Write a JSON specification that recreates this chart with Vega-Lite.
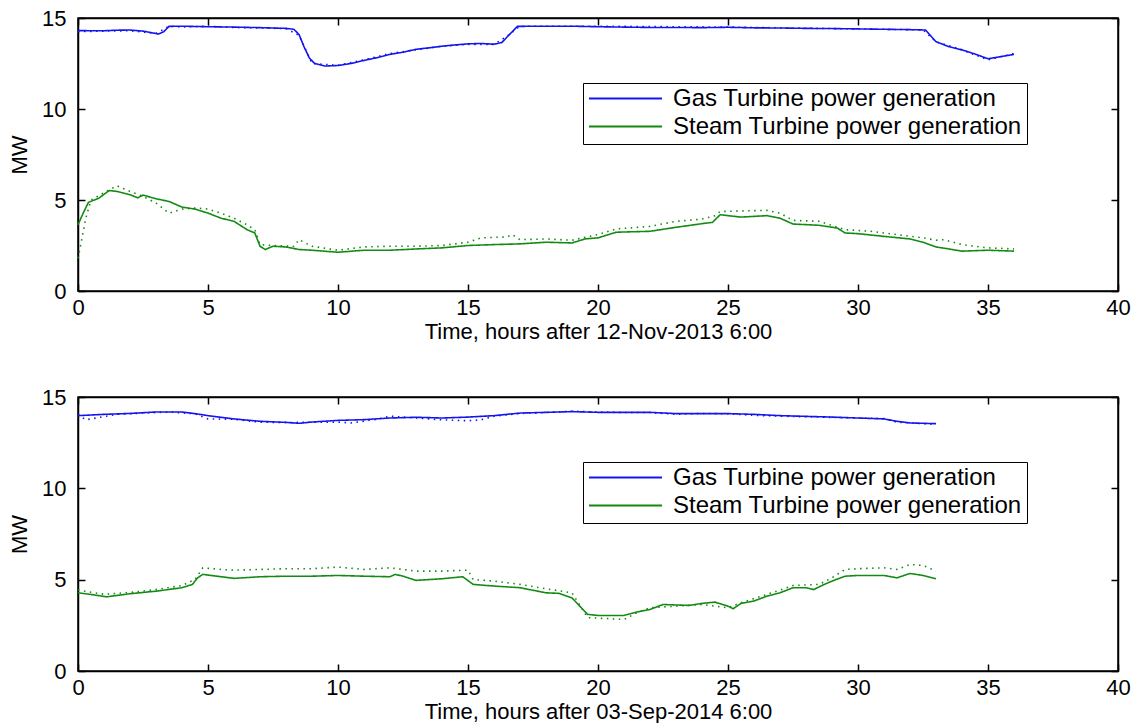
{
  "$schema": "https://vega.github.io/schema/vega-lite/v6.json",
  "background": "white",
  "padding": {"left": 7, "top": 6, "right": 5, "bottom": 0},
  "config": {
    "font": "Liberation Sans",
    "view": {"stroke": "black", "strokeWidth": 1.5},
    "axis": {"domainColor": "black", "domainWidth": 1.5, "tickColor": "black", "tickWidth": 1.5, "tickSize": -7, "labelFlush": false, "labelColor": "black", "titleColor": "black", "labelFontSize": 22, "titleFontSize": 22, "titleFontWeight": "normal", "grid": false},
    "axisX": {"labelPadding": 13, "titlePadding": 3},
    "axisY": {"labelPadding": 19, "titlePadding": 10},
    "legend": {"orient": "none", "legendX": 505, "legendY": 65, "strokeColor": "black", "fillColor": "white", "padding": 5, "symbolType": "stroke", "symbolSize": 5329, "symbolStrokeWidth": 2, "labelFontSize": 24, "labelColor": "black", "labelOffset": 10, "rowPadding": 3, "clipHeight": 21, "labelLimit": 500}
  },
  "datasets": {
    "nov2013": [
      {"t":0,"mw":14.31,"series":"Gas Turbine power generation","kind":"model"},
      {"t":0.5,"mw":14.3,"series":"Gas Turbine power generation","kind":"model"},
      {"t":1,"mw":14.3,"series":"Gas Turbine power generation","kind":"model"},
      {"t":1.5,"mw":14.33,"series":"Gas Turbine power generation","kind":"model"},
      {"t":2,"mw":14.34,"series":"Gas Turbine power generation","kind":"model"},
      {"t":2.5,"mw":14.28,"series":"Gas Turbine power generation","kind":"model"},
      {"t":2.8,"mw":14.2,"series":"Gas Turbine power generation","kind":"model"},
      {"t":3.1,"mw":14.12,"series":"Gas Turbine power generation","kind":"model"},
      {"t":3.3,"mw":14.25,"series":"Gas Turbine power generation","kind":"model"},
      {"t":3.5,"mw":14.54,"series":"Gas Turbine power generation","kind":"model"},
      {"t":4,"mw":14.55,"series":"Gas Turbine power generation","kind":"model"},
      {"t":5,"mw":14.52,"series":"Gas Turbine power generation","kind":"model"},
      {"t":6,"mw":14.5,"series":"Gas Turbine power generation","kind":"model"},
      {"t":7,"mw":14.47,"series":"Gas Turbine power generation","kind":"model"},
      {"t":8,"mw":14.43,"series":"Gas Turbine power generation","kind":"model"},
      {"t":8.3,"mw":14.38,"series":"Gas Turbine power generation","kind":"model"},
      {"t":8.5,"mw":14.1,"series":"Gas Turbine power generation","kind":"model"},
      {"t":8.7,"mw":13.4,"series":"Gas Turbine power generation","kind":"model"},
      {"t":8.9,"mw":12.8,"series":"Gas Turbine power generation","kind":"model"},
      {"t":9.1,"mw":12.5,"series":"Gas Turbine power generation","kind":"model"},
      {"t":9.5,"mw":12.36,"series":"Gas Turbine power generation","kind":"model"},
      {"t":10,"mw":12.39,"series":"Gas Turbine power generation","kind":"model"},
      {"t":10.5,"mw":12.5,"series":"Gas Turbine power generation","kind":"model"},
      {"t":11,"mw":12.67,"series":"Gas Turbine power generation","kind":"model"},
      {"t":11.5,"mw":12.82,"series":"Gas Turbine power generation","kind":"model"},
      {"t":12,"mw":13.0,"series":"Gas Turbine power generation","kind":"model"},
      {"t":12.5,"mw":13.12,"series":"Gas Turbine power generation","kind":"model"},
      {"t":13,"mw":13.28,"series":"Gas Turbine power generation","kind":"model"},
      {"t":13.5,"mw":13.36,"series":"Gas Turbine power generation","kind":"model"},
      {"t":14,"mw":13.45,"series":"Gas Turbine power generation","kind":"model"},
      {"t":14.5,"mw":13.52,"series":"Gas Turbine power generation","kind":"model"},
      {"t":15,"mw":13.58,"series":"Gas Turbine power generation","kind":"model"},
      {"t":15.5,"mw":13.6,"series":"Gas Turbine power generation","kind":"model"},
      {"t":16,"mw":13.56,"series":"Gas Turbine power generation","kind":"model"},
      {"t":16.3,"mw":13.65,"series":"Gas Turbine power generation","kind":"model"},
      {"t":16.6,"mw":14.1,"series":"Gas Turbine power generation","kind":"model"},
      {"t":16.9,"mw":14.54,"series":"Gas Turbine power generation","kind":"model"},
      {"t":18,"mw":14.55,"series":"Gas Turbine power generation","kind":"model"},
      {"t":19,"mw":14.55,"series":"Gas Turbine power generation","kind":"model"},
      {"t":20,"mw":14.52,"series":"Gas Turbine power generation","kind":"model"},
      {"t":21,"mw":14.5,"series":"Gas Turbine power generation","kind":"model"},
      {"t":22,"mw":14.48,"series":"Gas Turbine power generation","kind":"model"},
      {"t":23,"mw":14.48,"series":"Gas Turbine power generation","kind":"model"},
      {"t":24,"mw":14.47,"series":"Gas Turbine power generation","kind":"model"},
      {"t":25,"mw":14.49,"series":"Gas Turbine power generation","kind":"model"},
      {"t":26,"mw":14.46,"series":"Gas Turbine power generation","kind":"model"},
      {"t":27,"mw":14.45,"series":"Gas Turbine power generation","kind":"model"},
      {"t":28,"mw":14.43,"series":"Gas Turbine power generation","kind":"model"},
      {"t":29,"mw":14.42,"series":"Gas Turbine power generation","kind":"model"},
      {"t":30,"mw":14.4,"series":"Gas Turbine power generation","kind":"model"},
      {"t":31,"mw":14.38,"series":"Gas Turbine power generation","kind":"model"},
      {"t":32,"mw":14.36,"series":"Gas Turbine power generation","kind":"model"},
      {"t":32.6,"mw":14.34,"series":"Gas Turbine power generation","kind":"model"},
      {"t":33,"mw":13.7,"series":"Gas Turbine power generation","kind":"model"},
      {"t":33.5,"mw":13.42,"series":"Gas Turbine power generation","kind":"model"},
      {"t":34,"mw":13.25,"series":"Gas Turbine power generation","kind":"model"},
      {"t":34.5,"mw":13.02,"series":"Gas Turbine power generation","kind":"model"},
      {"t":35,"mw":12.76,"series":"Gas Turbine power generation","kind":"model"},
      {"t":35.5,"mw":12.88,"series":"Gas Turbine power generation","kind":"model"},
      {"t":36,"mw":13.0,"series":"Gas Turbine power generation","kind":"model"},

      {"t":0,"mw":14.25,"series":"Gas Turbine power generation","kind":"measured"},
      {"t":1,"mw":14.28,"series":"Gas Turbine power generation","kind":"measured"},
      {"t":2,"mw":14.3,"series":"Gas Turbine power generation","kind":"measured"},
      {"t":3,"mw":14.15,"series":"Gas Turbine power generation","kind":"measured"},
      {"t":3.5,"mw":14.55,"series":"Gas Turbine power generation","kind":"measured"},
      {"t":4,"mw":14.5,"series":"Gas Turbine power generation","kind":"measured"},
      {"t":5,"mw":14.55,"series":"Gas Turbine power generation","kind":"measured"},
      {"t":6,"mw":14.48,"series":"Gas Turbine power generation","kind":"measured"},
      {"t":7,"mw":14.45,"series":"Gas Turbine power generation","kind":"measured"},
      {"t":8,"mw":14.42,"series":"Gas Turbine power generation","kind":"measured"},
      {"t":8.5,"mw":14.05,"series":"Gas Turbine power generation","kind":"measured"},
      {"t":9,"mw":12.5,"series":"Gas Turbine power generation","kind":"measured"},
      {"t":10,"mw":12.4,"series":"Gas Turbine power generation","kind":"measured"},
      {"t":11,"mw":12.7,"series":"Gas Turbine power generation","kind":"measured"},
      {"t":12,"mw":13.05,"series":"Gas Turbine power generation","kind":"measured"},
      {"t":13,"mw":13.25,"series":"Gas Turbine power generation","kind":"measured"},
      {"t":14,"mw":13.45,"series":"Gas Turbine power generation","kind":"measured"},
      {"t":15,"mw":13.55,"series":"Gas Turbine power generation","kind":"measured"},
      {"t":16,"mw":13.55,"series":"Gas Turbine power generation","kind":"measured"},
      {"t":16.5,"mw":14.0,"series":"Gas Turbine power generation","kind":"measured"},
      {"t":17,"mw":14.55,"series":"Gas Turbine power generation","kind":"measured"},
      {"t":20,"mw":14.55,"series":"Gas Turbine power generation","kind":"measured"},
      {"t":25,"mw":14.5,"series":"Gas Turbine power generation","kind":"measured"},
      {"t":30,"mw":14.4,"series":"Gas Turbine power generation","kind":"measured"},
      {"t":32.5,"mw":14.35,"series":"Gas Turbine power generation","kind":"measured"},
      {"t":33,"mw":13.7,"series":"Gas Turbine power generation","kind":"measured"},
      {"t":34,"mw":13.25,"series":"Gas Turbine power generation","kind":"measured"},
      {"t":35,"mw":12.7,"series":"Gas Turbine power generation","kind":"measured"},
      {"t":36,"mw":13.05,"series":"Gas Turbine power generation","kind":"measured"},

      {"t":0,"mw":3.64,"series":"Steam Turbine power generation","kind":"model"},
      {"t":0.2,"mw":4.28,"series":"Steam Turbine power generation","kind":"model"},
      {"t":0.4,"mw":4.87,"series":"Steam Turbine power generation","kind":"model"},
      {"t":0.8,"mw":5.1,"series":"Steam Turbine power generation","kind":"model"},
      {"t":1.2,"mw":5.52,"series":"Steam Turbine power generation","kind":"model"},
      {"t":1.5,"mw":5.47,"series":"Steam Turbine power generation","kind":"model"},
      {"t":2,"mw":5.29,"series":"Steam Turbine power generation","kind":"model"},
      {"t":2.3,"mw":5.12,"series":"Steam Turbine power generation","kind":"model"},
      {"t":2.5,"mw":5.27,"series":"Steam Turbine power generation","kind":"model"},
      {"t":3,"mw":5.07,"series":"Steam Turbine power generation","kind":"model"},
      {"t":3.5,"mw":4.92,"series":"Steam Turbine power generation","kind":"model"},
      {"t":4,"mw":4.61,"series":"Steam Turbine power generation","kind":"model"},
      {"t":4.5,"mw":4.5,"series":"Steam Turbine power generation","kind":"model"},
      {"t":5,"mw":4.28,"series":"Steam Turbine power generation","kind":"model"},
      {"t":5.5,"mw":4.0,"series":"Steam Turbine power generation","kind":"model"},
      {"t":6,"mw":3.83,"series":"Steam Turbine power generation","kind":"model"},
      {"t":6.5,"mw":3.37,"series":"Steam Turbine power generation","kind":"model"},
      {"t":6.8,"mw":3.19,"series":"Steam Turbine power generation","kind":"model"},
      {"t":7,"mw":2.46,"series":"Steam Turbine power generation","kind":"model"},
      {"t":7.2,"mw":2.28,"series":"Steam Turbine power generation","kind":"model"},
      {"t":7.5,"mw":2.46,"series":"Steam Turbine power generation","kind":"model"},
      {"t":8,"mw":2.42,"series":"Steam Turbine power generation","kind":"model"},
      {"t":8.5,"mw":2.28,"series":"Steam Turbine power generation","kind":"model"},
      {"t":9,"mw":2.24,"series":"Steam Turbine power generation","kind":"model"},
      {"t":10,"mw":2.13,"series":"Steam Turbine power generation","kind":"model"},
      {"t":11,"mw":2.24,"series":"Steam Turbine power generation","kind":"model"},
      {"t":12,"mw":2.24,"series":"Steam Turbine power generation","kind":"model"},
      {"t":13,"mw":2.31,"series":"Steam Turbine power generation","kind":"model"},
      {"t":14,"mw":2.37,"series":"Steam Turbine power generation","kind":"model"},
      {"t":15,"mw":2.5,"series":"Steam Turbine power generation","kind":"model"},
      {"t":16,"mw":2.55,"series":"Steam Turbine power generation","kind":"model"},
      {"t":17,"mw":2.59,"series":"Steam Turbine power generation","kind":"model"},
      {"t":18,"mw":2.68,"series":"Steam Turbine power generation","kind":"model"},
      {"t":19,"mw":2.64,"series":"Steam Turbine power generation","kind":"model"},
      {"t":19.5,"mw":2.86,"series":"Steam Turbine power generation","kind":"model"},
      {"t":20,"mw":2.92,"series":"Steam Turbine power generation","kind":"model"},
      {"t":20.7,"mw":3.23,"series":"Steam Turbine power generation","kind":"model"},
      {"t":22,"mw":3.28,"series":"Steam Turbine power generation","kind":"model"},
      {"t":23,"mw":3.5,"series":"Steam Turbine power generation","kind":"model"},
      {"t":24,"mw":3.7,"series":"Steam Turbine power generation","kind":"model"},
      {"t":24.4,"mw":3.77,"series":"Steam Turbine power generation","kind":"model"},
      {"t":24.7,"mw":4.19,"series":"Steam Turbine power generation","kind":"model"},
      {"t":25.5,"mw":4.06,"series":"Steam Turbine power generation","kind":"model"},
      {"t":26.5,"mw":4.14,"series":"Steam Turbine power generation","kind":"model"},
      {"t":27,"mw":4.0,"series":"Steam Turbine power generation","kind":"model"},
      {"t":27.5,"mw":3.68,"series":"Steam Turbine power generation","kind":"model"},
      {"t":28.5,"mw":3.61,"series":"Steam Turbine power generation","kind":"model"},
      {"t":29.2,"mw":3.46,"series":"Steam Turbine power generation","kind":"model"},
      {"t":29.5,"mw":3.19,"series":"Steam Turbine power generation","kind":"model"},
      {"t":30,"mw":3.15,"series":"Steam Turbine power generation","kind":"model"},
      {"t":31,"mw":3.0,"series":"Steam Turbine power generation","kind":"model"},
      {"t":32,"mw":2.86,"series":"Steam Turbine power generation","kind":"model"},
      {"t":32.5,"mw":2.68,"series":"Steam Turbine power generation","kind":"model"},
      {"t":33,"mw":2.42,"series":"Steam Turbine power generation","kind":"model"},
      {"t":33.5,"mw":2.31,"series":"Steam Turbine power generation","kind":"model"},
      {"t":34,"mw":2.19,"series":"Steam Turbine power generation","kind":"model"},
      {"t":35,"mw":2.24,"series":"Steam Turbine power generation","kind":"model"},
      {"t":36,"mw":2.19,"series":"Steam Turbine power generation","kind":"model"},

      {"t":0,"mw":1.8,"series":"Steam Turbine power generation","kind":"measured"},
      {"t":0.1,"mw":2.5,"series":"Steam Turbine power generation","kind":"measured"},
      {"t":0.3,"mw":4.0,"series":"Steam Turbine power generation","kind":"measured"},
      {"t":0.5,"mw":5.0,"series":"Steam Turbine power generation","kind":"measured"},
      {"t":1,"mw":5.4,"series":"Steam Turbine power generation","kind":"measured"},
      {"t":1.5,"mw":5.78,"series":"Steam Turbine power generation","kind":"measured"},
      {"t":2,"mw":5.47,"series":"Steam Turbine power generation","kind":"measured"},
      {"t":2.5,"mw":5.2,"series":"Steam Turbine power generation","kind":"measured"},
      {"t":3,"mw":4.83,"series":"Steam Turbine power generation","kind":"measured"},
      {"t":3.5,"mw":4.28,"series":"Steam Turbine power generation","kind":"measured"},
      {"t":4,"mw":4.5,"series":"Steam Turbine power generation","kind":"measured"},
      {"t":4.5,"mw":4.56,"series":"Steam Turbine power generation","kind":"measured"},
      {"t":5,"mw":4.5,"series":"Steam Turbine power generation","kind":"measured"},
      {"t":5.5,"mw":4.28,"series":"Steam Turbine power generation","kind":"measured"},
      {"t":6,"mw":4.0,"series":"Steam Turbine power generation","kind":"measured"},
      {"t":6.5,"mw":3.64,"series":"Steam Turbine power generation","kind":"measured"},
      {"t":6.8,"mw":3.37,"series":"Steam Turbine power generation","kind":"measured"},
      {"t":7,"mw":2.55,"series":"Steam Turbine power generation","kind":"measured"},
      {"t":7.5,"mw":2.5,"series":"Steam Turbine power generation","kind":"measured"},
      {"t":8.3,"mw":2.45,"series":"Steam Turbine power generation","kind":"measured"},
      {"t":8.5,"mw":2.82,"series":"Steam Turbine power generation","kind":"measured"},
      {"t":9,"mw":2.46,"series":"Steam Turbine power generation","kind":"measured"},
      {"t":10,"mw":2.24,"series":"Steam Turbine power generation","kind":"measured"},
      {"t":11,"mw":2.42,"series":"Steam Turbine power generation","kind":"measured"},
      {"t":12,"mw":2.46,"series":"Steam Turbine power generation","kind":"measured"},
      {"t":13,"mw":2.46,"series":"Steam Turbine power generation","kind":"measured"},
      {"t":14,"mw":2.5,"series":"Steam Turbine power generation","kind":"measured"},
      {"t":15,"mw":2.68,"series":"Steam Turbine power generation","kind":"measured"},
      {"t":15.5,"mw":2.92,"series":"Steam Turbine power generation","kind":"measured"},
      {"t":16.5,"mw":2.97,"series":"Steam Turbine power generation","kind":"measured"},
      {"t":16.7,"mw":3.1,"series":"Steam Turbine power generation","kind":"measured"},
      {"t":17,"mw":2.82,"series":"Steam Turbine power generation","kind":"measured"},
      {"t":18,"mw":2.86,"series":"Steam Turbine power generation","kind":"measured"},
      {"t":19,"mw":2.79,"series":"Steam Turbine power generation","kind":"measured"},
      {"t":20,"mw":3.1,"series":"Steam Turbine power generation","kind":"measured"},
      {"t":20.7,"mw":3.41,"series":"Steam Turbine power generation","kind":"measured"},
      {"t":22,"mw":3.55,"series":"Steam Turbine power generation","kind":"measured"},
      {"t":23,"mw":3.83,"series":"Steam Turbine power generation","kind":"measured"},
      {"t":24,"mw":3.95,"series":"Steam Turbine power generation","kind":"measured"},
      {"t":24.5,"mw":4.14,"series":"Steam Turbine power generation","kind":"measured"},
      {"t":24.7,"mw":4.37,"series":"Steam Turbine power generation","kind":"measured"},
      {"t":26.5,"mw":4.43,"series":"Steam Turbine power generation","kind":"measured"},
      {"t":27,"mw":4.28,"series":"Steam Turbine power generation","kind":"measured"},
      {"t":27.5,"mw":3.88,"series":"Steam Turbine power generation","kind":"measured"},
      {"t":28.5,"mw":3.83,"series":"Steam Turbine power generation","kind":"measured"},
      {"t":29.5,"mw":3.37,"series":"Steam Turbine power generation","kind":"measured"},
      {"t":30.5,"mw":3.28,"series":"Steam Turbine power generation","kind":"measured"},
      {"t":31.5,"mw":3.1,"series":"Steam Turbine power generation","kind":"measured"},
      {"t":32.5,"mw":2.92,"series":"Steam Turbine power generation","kind":"measured"},
      {"t":33,"mw":2.79,"series":"Steam Turbine power generation","kind":"measured"},
      {"t":33.3,"mw":2.82,"series":"Steam Turbine power generation","kind":"measured"},
      {"t":34,"mw":2.55,"series":"Steam Turbine power generation","kind":"measured"},
      {"t":35,"mw":2.37,"series":"Steam Turbine power generation","kind":"measured"},
      {"t":36,"mw":2.31,"series":"Steam Turbine power generation","kind":"measured"}
    ],
    "sep2014": [
      {"t":0,"mw":13.98,"series":"Gas Turbine power generation","kind":"model"},
      {"t":1,"mw":14.05,"series":"Gas Turbine power generation","kind":"model"},
      {"t":2,"mw":14.1,"series":"Gas Turbine power generation","kind":"model"},
      {"t":3,"mw":14.18,"series":"Gas Turbine power generation","kind":"model"},
      {"t":4,"mw":14.18,"series":"Gas Turbine power generation","kind":"model"},
      {"t":4.5,"mw":14.09,"series":"Gas Turbine power generation","kind":"model"},
      {"t":5,"mw":13.98,"series":"Gas Turbine power generation","kind":"model"},
      {"t":6,"mw":13.8,"series":"Gas Turbine power generation","kind":"model"},
      {"t":7,"mw":13.67,"series":"Gas Turbine power generation","kind":"model"},
      {"t":8,"mw":13.61,"series":"Gas Turbine power generation","kind":"model"},
      {"t":8.5,"mw":13.56,"series":"Gas Turbine power generation","kind":"model"},
      {"t":9,"mw":13.63,"series":"Gas Turbine power generation","kind":"model"},
      {"t":10,"mw":13.72,"series":"Gas Turbine power generation","kind":"model"},
      {"t":11,"mw":13.76,"series":"Gas Turbine power generation","kind":"model"},
      {"t":12,"mw":13.85,"series":"Gas Turbine power generation","kind":"model"},
      {"t":13,"mw":13.89,"series":"Gas Turbine power generation","kind":"model"},
      {"t":14,"mw":13.85,"series":"Gas Turbine power generation","kind":"model"},
      {"t":15,"mw":13.9,"series":"Gas Turbine power generation","kind":"model"},
      {"t":16,"mw":13.98,"series":"Gas Turbine power generation","kind":"model"},
      {"t":17,"mw":14.12,"series":"Gas Turbine power generation","kind":"model"},
      {"t":18,"mw":14.16,"series":"Gas Turbine power generation","kind":"model"},
      {"t":19,"mw":14.2,"series":"Gas Turbine power generation","kind":"model"},
      {"t":20,"mw":14.16,"series":"Gas Turbine power generation","kind":"model"},
      {"t":21,"mw":14.16,"series":"Gas Turbine power generation","kind":"model"},
      {"t":22,"mw":14.16,"series":"Gas Turbine power generation","kind":"model"},
      {"t":23,"mw":14.09,"series":"Gas Turbine power generation","kind":"model"},
      {"t":24,"mw":14.09,"series":"Gas Turbine power generation","kind":"model"},
      {"t":25,"mw":14.09,"series":"Gas Turbine power generation","kind":"model"},
      {"t":26,"mw":14.05,"series":"Gas Turbine power generation","kind":"model"},
      {"t":27,"mw":13.98,"series":"Gas Turbine power generation","kind":"model"},
      {"t":28,"mw":13.94,"series":"Gas Turbine power generation","kind":"model"},
      {"t":29,"mw":13.9,"series":"Gas Turbine power generation","kind":"model"},
      {"t":30,"mw":13.85,"series":"Gas Turbine power generation","kind":"model"},
      {"t":31,"mw":13.8,"series":"Gas Turbine power generation","kind":"model"},
      {"t":31.5,"mw":13.67,"series":"Gas Turbine power generation","kind":"model"},
      {"t":32,"mw":13.58,"series":"Gas Turbine power generation","kind":"model"},
      {"t":33,"mw":13.54,"series":"Gas Turbine power generation","kind":"model"},

      {"t":0,"mw":14.05,"series":"Gas Turbine power generation","kind":"measured"},
      {"t":0.3,"mw":13.75,"series":"Gas Turbine power generation","kind":"measured"},
      {"t":0.7,"mw":13.85,"series":"Gas Turbine power generation","kind":"measured"},
      {"t":1.5,"mw":14.05,"series":"Gas Turbine power generation","kind":"measured"},
      {"t":2.5,"mw":14.12,"series":"Gas Turbine power generation","kind":"measured"},
      {"t":3.5,"mw":14.18,"series":"Gas Turbine power generation","kind":"measured"},
      {"t":4.5,"mw":14.08,"series":"Gas Turbine power generation","kind":"measured"},
      {"t":5,"mw":13.8,"series":"Gas Turbine power generation","kind":"measured"},
      {"t":6,"mw":13.78,"series":"Gas Turbine power generation","kind":"measured"},
      {"t":7,"mw":13.62,"series":"Gas Turbine power generation","kind":"measured"},
      {"t":8,"mw":13.6,"series":"Gas Turbine power generation","kind":"measured"},
      {"t":9,"mw":13.62,"series":"Gas Turbine power generation","kind":"measured"},
      {"t":10,"mw":13.62,"series":"Gas Turbine power generation","kind":"measured"},
      {"t":10.5,"mw":13.58,"series":"Gas Turbine power generation","kind":"measured"},
      {"t":11.5,"mw":13.78,"series":"Gas Turbine power generation","kind":"measured"},
      {"t":12,"mw":13.95,"series":"Gas Turbine power generation","kind":"measured"},
      {"t":13,"mw":13.85,"series":"Gas Turbine power generation","kind":"measured"},
      {"t":14,"mw":13.75,"series":"Gas Turbine power generation","kind":"measured"},
      {"t":15,"mw":13.7,"series":"Gas Turbine power generation","kind":"measured"},
      {"t":15.5,"mw":13.75,"series":"Gas Turbine power generation","kind":"measured"},
      {"t":16,"mw":13.95,"series":"Gas Turbine power generation","kind":"measured"},
      {"t":17,"mw":14.1,"series":"Gas Turbine power generation","kind":"measured"},
      {"t":18,"mw":14.15,"series":"Gas Turbine power generation","kind":"measured"},
      {"t":19,"mw":14.22,"series":"Gas Turbine power generation","kind":"measured"},
      {"t":20,"mw":14.18,"series":"Gas Turbine power generation","kind":"measured"},
      {"t":21,"mw":14.15,"series":"Gas Turbine power generation","kind":"measured"},
      {"t":22,"mw":14.15,"series":"Gas Turbine power generation","kind":"measured"},
      {"t":23,"mw":14.05,"series":"Gas Turbine power generation","kind":"measured"},
      {"t":24,"mw":14.1,"series":"Gas Turbine power generation","kind":"measured"},
      {"t":25,"mw":14.08,"series":"Gas Turbine power generation","kind":"measured"},
      {"t":26,"mw":14.0,"series":"Gas Turbine power generation","kind":"measured"},
      {"t":27,"mw":13.95,"series":"Gas Turbine power generation","kind":"measured"},
      {"t":28,"mw":13.92,"series":"Gas Turbine power generation","kind":"measured"},
      {"t":29,"mw":13.88,"series":"Gas Turbine power generation","kind":"measured"},
      {"t":30,"mw":13.85,"series":"Gas Turbine power generation","kind":"measured"},
      {"t":31,"mw":13.82,"series":"Gas Turbine power generation","kind":"measured"},
      {"t":31.5,"mw":13.62,"series":"Gas Turbine power generation","kind":"measured"},
      {"t":32,"mw":13.58,"series":"Gas Turbine power generation","kind":"measured"},
      {"t":33,"mw":13.5,"series":"Gas Turbine power generation","kind":"measured"},

      {"t":0,"mw":4.28,"series":"Steam Turbine power generation","kind":"model"},
      {"t":0.5,"mw":4.19,"series":"Steam Turbine power generation","kind":"model"},
      {"t":1.1,"mw":4.06,"series":"Steam Turbine power generation","kind":"model"},
      {"t":2,"mw":4.23,"series":"Steam Turbine power generation","kind":"model"},
      {"t":3,"mw":4.37,"series":"Steam Turbine power generation","kind":"model"},
      {"t":4,"mw":4.56,"series":"Steam Turbine power generation","kind":"model"},
      {"t":4.4,"mw":4.74,"series":"Steam Turbine power generation","kind":"model"},
      {"t":4.6,"mw":5.1,"series":"Steam Turbine power generation","kind":"model"},
      {"t":4.8,"mw":5.29,"series":"Steam Turbine power generation","kind":"model"},
      {"t":5.5,"mw":5.16,"series":"Steam Turbine power generation","kind":"model"},
      {"t":6,"mw":5.07,"series":"Steam Turbine power generation","kind":"model"},
      {"t":7,"mw":5.16,"series":"Steam Turbine power generation","kind":"model"},
      {"t":8,"mw":5.19,"series":"Steam Turbine power generation","kind":"model"},
      {"t":9,"mw":5.19,"series":"Steam Turbine power generation","kind":"model"},
      {"t":10,"mw":5.23,"series":"Steam Turbine power generation","kind":"model"},
      {"t":11,"mw":5.19,"series":"Steam Turbine power generation","kind":"model"},
      {"t":12,"mw":5.16,"series":"Steam Turbine power generation","kind":"model"},
      {"t":12.2,"mw":5.29,"series":"Steam Turbine power generation","kind":"model"},
      {"t":12.5,"mw":5.19,"series":"Steam Turbine power generation","kind":"model"},
      {"t":13,"mw":4.96,"series":"Steam Turbine power generation","kind":"model"},
      {"t":14,"mw":5.05,"series":"Steam Turbine power generation","kind":"model"},
      {"t":14.8,"mw":5.16,"series":"Steam Turbine power generation","kind":"model"},
      {"t":15.2,"mw":4.74,"series":"Steam Turbine power generation","kind":"model"},
      {"t":16,"mw":4.65,"series":"Steam Turbine power generation","kind":"model"},
      {"t":17,"mw":4.56,"series":"Steam Turbine power generation","kind":"model"},
      {"t":18,"mw":4.28,"series":"Steam Turbine power generation","kind":"model"},
      {"t":18.5,"mw":4.25,"series":"Steam Turbine power generation","kind":"model"},
      {"t":19,"mw":4.0,"series":"Steam Turbine power generation","kind":"model"},
      {"t":19.6,"mw":3.1,"series":"Steam Turbine power generation","kind":"model"},
      {"t":20,"mw":3.04,"series":"Steam Turbine power generation","kind":"model"},
      {"t":21,"mw":3.04,"series":"Steam Turbine power generation","kind":"model"},
      {"t":21.5,"mw":3.23,"series":"Steam Turbine power generation","kind":"model"},
      {"t":22,"mw":3.37,"series":"Steam Turbine power generation","kind":"model"},
      {"t":22.5,"mw":3.64,"series":"Steam Turbine power generation","kind":"model"},
      {"t":23.5,"mw":3.59,"series":"Steam Turbine power generation","kind":"model"},
      {"t":24,"mw":3.7,"series":"Steam Turbine power generation","kind":"model"},
      {"t":24.5,"mw":3.77,"series":"Steam Turbine power generation","kind":"model"},
      {"t":25,"mw":3.55,"series":"Steam Turbine power generation","kind":"model"},
      {"t":25.2,"mw":3.41,"series":"Steam Turbine power generation","kind":"model"},
      {"t":25.5,"mw":3.7,"series":"Steam Turbine power generation","kind":"model"},
      {"t":26,"mw":3.83,"series":"Steam Turbine power generation","kind":"model"},
      {"t":26.5,"mw":4.1,"series":"Steam Turbine power generation","kind":"model"},
      {"t":27,"mw":4.28,"series":"Steam Turbine power generation","kind":"model"},
      {"t":27.5,"mw":4.56,"series":"Steam Turbine power generation","kind":"model"},
      {"t":28,"mw":4.56,"series":"Steam Turbine power generation","kind":"model"},
      {"t":28.3,"mw":4.46,"series":"Steam Turbine power generation","kind":"model"},
      {"t":28.7,"mw":4.74,"series":"Steam Turbine power generation","kind":"model"},
      {"t":29,"mw":4.92,"series":"Steam Turbine power generation","kind":"model"},
      {"t":29.5,"mw":5.19,"series":"Steam Turbine power generation","kind":"model"},
      {"t":30,"mw":5.23,"series":"Steam Turbine power generation","kind":"model"},
      {"t":31,"mw":5.23,"series":"Steam Turbine power generation","kind":"model"},
      {"t":31.5,"mw":5.1,"series":"Steam Turbine power generation","kind":"model"},
      {"t":32,"mw":5.34,"series":"Steam Turbine power generation","kind":"model"},
      {"t":32.5,"mw":5.23,"series":"Steam Turbine power generation","kind":"model"},
      {"t":33,"mw":5.05,"series":"Steam Turbine power generation","kind":"model"},

      {"t":0,"mw":4.43,"series":"Steam Turbine power generation","kind":"measured"},
      {"t":1,"mw":4.2,"series":"Steam Turbine power generation","kind":"measured"},
      {"t":2,"mw":4.3,"series":"Steam Turbine power generation","kind":"measured"},
      {"t":3,"mw":4.46,"series":"Steam Turbine power generation","kind":"measured"},
      {"t":4,"mw":4.68,"series":"Steam Turbine power generation","kind":"measured"},
      {"t":4.5,"mw":5.01,"series":"Steam Turbine power generation","kind":"measured"},
      {"t":4.8,"mw":5.65,"series":"Steam Turbine power generation","kind":"measured"},
      {"t":5.5,"mw":5.56,"series":"Steam Turbine power generation","kind":"measured"},
      {"t":6,"mw":5.52,"series":"Steam Turbine power generation","kind":"measured"},
      {"t":7,"mw":5.56,"series":"Steam Turbine power generation","kind":"measured"},
      {"t":8,"mw":5.6,"series":"Steam Turbine power generation","kind":"measured"},
      {"t":9,"mw":5.6,"series":"Steam Turbine power generation","kind":"measured"},
      {"t":10,"mw":5.69,"series":"Steam Turbine power generation","kind":"measured"},
      {"t":11,"mw":5.56,"series":"Steam Turbine power generation","kind":"measured"},
      {"t":12,"mw":5.65,"series":"Steam Turbine power generation","kind":"measured"},
      {"t":13,"mw":5.47,"series":"Steam Turbine power generation","kind":"measured"},
      {"t":14,"mw":5.47,"series":"Steam Turbine power generation","kind":"measured"},
      {"t":15,"mw":5.52,"series":"Steam Turbine power generation","kind":"measured"},
      {"t":15.2,"mw":5.01,"series":"Steam Turbine power generation","kind":"measured"},
      {"t":16,"mw":4.92,"series":"Steam Turbine power generation","kind":"measured"},
      {"t":17,"mw":4.74,"series":"Steam Turbine power generation","kind":"measured"},
      {"t":18,"mw":4.5,"series":"Steam Turbine power generation","kind":"measured"},
      {"t":19,"mw":4.28,"series":"Steam Turbine power generation","kind":"measured"},
      {"t":19.6,"mw":2.92,"series":"Steam Turbine power generation","kind":"measured"},
      {"t":20.5,"mw":2.86,"series":"Steam Turbine power generation","kind":"measured"},
      {"t":21,"mw":2.82,"series":"Steam Turbine power generation","kind":"measured"},
      {"t":21.5,"mw":3.19,"series":"Steam Turbine power generation","kind":"measured"},
      {"t":22,"mw":3.46,"series":"Steam Turbine power generation","kind":"measured"},
      {"t":23,"mw":3.55,"series":"Steam Turbine power generation","kind":"measured"},
      {"t":24,"mw":3.64,"series":"Steam Turbine power generation","kind":"measured"},
      {"t":25,"mw":3.46,"series":"Steam Turbine power generation","kind":"measured"},
      {"t":25.5,"mw":3.74,"series":"Steam Turbine power generation","kind":"measured"},
      {"t":26.5,"mw":4.19,"series":"Steam Turbine power generation","kind":"measured"},
      {"t":27.5,"mw":4.68,"series":"Steam Turbine power generation","kind":"measured"},
      {"t":28.5,"mw":4.74,"series":"Steam Turbine power generation","kind":"measured"},
      {"t":29,"mw":5.1,"series":"Steam Turbine power generation","kind":"measured"},
      {"t":29.5,"mw":5.56,"series":"Steam Turbine power generation","kind":"measured"},
      {"t":30,"mw":5.6,"series":"Steam Turbine power generation","kind":"measured"},
      {"t":31,"mw":5.65,"series":"Steam Turbine power generation","kind":"measured"},
      {"t":31.5,"mw":5.56,"series":"Steam Turbine power generation","kind":"measured"},
      {"t":32,"mw":5.83,"series":"Steam Turbine power generation","kind":"measured"},
      {"t":32.5,"mw":5.78,"series":"Steam Turbine power generation","kind":"measured"},
      {"t":33,"mw":5.47,"series":"Steam Turbine power generation","kind":"measured"}
    ]
  },
  "spacing": 42,
  "vconcat": [
    {
      "width": 1040,
      "height": 273,
      "data": {"name": "nov2013"},
      "layer": [
        {
          "mark": {"type": "line", "strokeWidth": 1.6},
          "encoding": {
            "x": {"field": "t", "type": "quantitative", "scale": {"domain": [0, 40], "nice": false}, "axis": {"orient": "bottom", "values": [0,5,10,15,20,25,30,35,40], "title": "Time, hours after 12-Nov-2013 6:00"}},
            "y": {"field": "mw", "type": "quantitative", "scale": {"domain": [0, 15], "nice": false}, "axis": {"orient": "left", "values": [0,5,10,15], "title": "MW"}},
            "color": {"field": "series", "type": "nominal", "scale": {"domain": ["Gas Turbine power generation", "Steam Turbine power generation"], "range": ["#1414f0", "#138a13"]}, "legend": {"title": null}},
            "strokeDash": {"field": "kind", "type": "nominal", "scale": {"domain": ["model", "measured"], "range": [[1, 0], [1.5, 4.5]]}, "legend": null}
          }
        },
        {
          "mark": {"type": "point", "opacity": 0},
          "encoding": {
            "x": {"field": "t", "type": "quantitative", "scale": {"domain": [0, 40], "nice": false}, "axis": {"orient": "top", "values": [0,5,10,15,20,25,30,35,40], "labels": false, "title": null}},
            "y": {"field": "mw", "type": "quantitative", "scale": {"domain": [0, 15], "nice": false}, "axis": {"orient": "right", "values": [0,5,10,15], "labels": false, "title": null}}
          }
        }
      ],
      "resolve": {"axis": {"x": "independent", "y": "independent"}}
    },
    {
      "width": 1040,
      "height": 274,
      "data": {"name": "sep2014"},
      "layer": [
        {
          "mark": {"type": "line", "strokeWidth": 1.6},
          "encoding": {
            "x": {"field": "t", "type": "quantitative", "scale": {"domain": [0, 40], "nice": false}, "axis": {"orient": "bottom", "values": [0,5,10,15,20,25,30,35,40], "title": "Time, hours after 03-Sep-2014 6:00"}},
            "y": {"field": "mw", "type": "quantitative", "scale": {"domain": [0, 15], "nice": false}, "axis": {"orient": "left", "values": [0,5,10,15], "title": "MW"}},
            "color": {"field": "series", "type": "nominal", "scale": {"domain": ["Gas Turbine power generation", "Steam Turbine power generation"], "range": ["#1414f0", "#138a13"]}, "legend": {"title": null}},
            "strokeDash": {"field": "kind", "type": "nominal", "scale": {"domain": ["model", "measured"], "range": [[1, 0], [1.5, 4.5]]}, "legend": null}
          }
        },
        {
          "mark": {"type": "point", "opacity": 0},
          "encoding": {
            "x": {"field": "t", "type": "quantitative", "scale": {"domain": [0, 40], "nice": false}, "axis": {"orient": "top", "values": [0,5,10,15,20,25,30,35,40], "labels": false, "title": null}},
            "y": {"field": "mw", "type": "quantitative", "scale": {"domain": [0, 15], "nice": false}, "axis": {"orient": "right", "values": [0,5,10,15], "labels": false, "title": null}}
          }
        }
      ],
      "resolve": {"axis": {"x": "independent", "y": "independent"}}
    }
  ],
  "resolve": {"scale": {"color": "independent", "strokeDash": "independent"}, "legend": {"color": "independent"}}
}
